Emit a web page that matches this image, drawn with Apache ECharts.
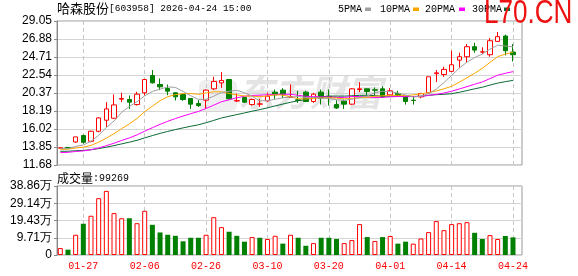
<!DOCTYPE html>
<html><head><meta charset="utf-8">
<script src="https://cdn.jsdelivr.net/npm/echarts@6/dist/echarts.min.js"></script>
<style>html,body{margin:0;padding:0;background:#fff}#c{width:578px;height:276px}</style>
</head><body><div id="c"></div>
<script>
const dates = ['01-22','01-23','01-26','01-27','01-28','01-29','01-30','02-02','02-03','02-04',
'02-05','02-06','02-09','02-10','02-11','02-12','02-13','02-24','02-25','02-26',
'02-27','03-02','03-03','03-04','03-05','03-06','03-09','03-10','03-11','03-12',
'03-13','03-16','03-17','03-18','03-19','03-20','03-23','03-24','03-25','03-26',
'03-27','03-30','03-31','04-01','04-02','04-03','04-07','04-08','04-09','04-10',
'04-13','04-14','04-15','04-16','04-17','04-20','04-21','04-22','04-23','04-24'];
const opens = [13.72,13.80,14.46,15.23,14.54,15.75,17.08,17.32,19.62,19.58,
18.97,20.39,22.48,21.39,20.91,20.39,20.18,19.70,19.10,19.50,
20.87,21.59,21.99,19.40,19.82,18.97,19.02,19.42,20.47,20.71,
19.82,19.54,20.47,19.34,20.47,19.98,18.97,19.38,19.02,20.79,
20.87,20.75,20.87,20.14,20.30,19.90,19.50,19.90,20.39,22.70,
22.60,22.97,24.33,24.74,25.95,25.30,24.98,26.59,27.24,25.30];
const closes = [13.75,13.72,15.07,14.42,15.75,17.36,18.45,18.93,19.70,19.26,
20.22,21.99,21.59,21.11,20.59,19.90,19.58,19.02,18.85,20.71,
21.76,21.88,19.66,19.45,19.26,19.58,19.05,19.98,20.14,20.22,
19.94,19.46,19.34,20.22,19.74,19.86,18.57,19.02,20.87,20.87,
20.55,20.70,19.90,20.63,20.06,19.34,19.46,20.30,22.32,22.80,
23.21,23.77,24.74,25.95,25.54,25.33,26.67,27.16,25.46,24.98];
const lows = [13.68,13.70,14.34,14.26,14.42,15.63,16.27,17.24,19.26,18.45,
18.85,20.06,21.51,20.71,20.10,19.46,19.42,18.45,18.69,18.45,
20.71,20.99,19.58,19.30,19.18,18.85,18.69,19.34,19.66,19.74,
19.78,19.18,19.26,19.18,18.97,18.85,18.45,18.45,18.93,20.47,
20.06,20.06,19.74,19.90,19.98,18.97,18.97,19.74,20.30,21.68,
22.32,22.88,23.41,24.01,25.22,25.06,24.74,26.51,24.90,24.17];
const highs = [13.78,13.85,15.07,15.35,15.83,17.44,19.26,20.18,20.39,20.06,
20.51,22.07,23.13,22.12,21.39,20.47,20.30,19.74,19.50,20.79,
22.32,22.88,21.99,20.30,19.90,19.70,19.66,20.39,20.79,20.95,
21.39,20.63,20.63,20.39,20.79,20.79,19.50,19.58,20.95,21.68,
20.87,21.03,21.19,20.95,20.63,19.98,19.90,20.39,22.32,23.13,
23.53,25.46,25.22,26.27,26.43,25.87,26.99,27.72,27.40,26.27];
const volumes = [3.9,3.0,11.4,17.6,22.1,32.0,36.1,23.6,20.7,20.7,
17.9,24.9,17.0,12.7,11.4,10.8,7.7,9.7,9.7,11.4,
21.3,15.7,13.1,10.8,7.5,10.1,9.7,9.0,10.8,6.4,
11.4,9.7,5.2,6.7,9.7,9.7,9.0,6.7,8.4,17.4,
10.1,7.9,10.1,10.7,6.4,7.5,6.4,9.3,12.9,19.1,
14.0,17.4,17.9,18.5,12.5,9.0,11.2,9.0,10.7,9.93];
const volUp = [1,0,1,0,1,1,1,1,1,0, 1,1,0,0,0,0,0,0,0,1, 1,1,0,0,0,1,0,1,1,0,
1,0,0,1,0,0,0,1,1,1, 0,1,0,1,0,0,1,1,1,1, 1,1,1,1,0,0,1,1,0,0];
const ma5 = [13.66,13.66,13.92,14.10,14.54,15.26,16.21,16.98,18.04,18.74,19.31,20.02,20.55,20.83,21.10,21.04,20.55,20.04,19.59,19.61,19.98,20.44,20.57,20.69,20.40,19.97,19.40,19.46,19.60,19.79,19.87,19.95,19.82,19.84,19.74,19.72,19.55,19.48,19.61,19.84,19.98,20.40,20.58,20.53,20.37,20.13,19.88,19.96,20.30,20.84,21.62,22.48,23.37,24.09,24.64,25.07,25.65,26.13,26.03,25.92];
const ma10 = [13.56,13.59,13.74,13.83,14.05,14.43,14.92,15.46,16.07,16.64,17.29,18.12,18.77,19.44,19.92,20.17,20.29,20.30,20.21,20.36,20.51,20.50,20.31,20.14,20.01,19.98,19.92,20.02,20.15,20.10,19.92,19.67,19.64,19.72,19.77,19.80,19.75,19.65,19.72,19.79,19.85,19.97,20.03,20.07,20.10,20.05,20.14,20.27,20.41,20.61,20.87,21.18,21.66,22.20,22.74,23.34,24.06,24.75,25.06,25.28];
const ma20 = [13.17,13.21,13.31,13.38,13.52,13.74,14.01,14.31,14.64,14.95,15.31,15.76,16.18,16.58,16.95,17.28,17.59,17.87,18.14,18.50,18.90,19.31,19.54,19.79,19.96,20.07,20.10,20.16,20.18,20.23,20.21,20.09,19.97,19.93,19.89,19.89,19.83,19.83,19.94,19.94,19.88,19.82,19.84,19.90,19.94,19.92,19.94,19.96,20.07,20.20,20.36,20.58,20.85,21.13,21.42,21.70,22.10,22.51,22.74,22.94];
const ma30 = [13.33,13.34,13.40,13.44,13.52,13.66,13.83,14.02,14.23,14.43,14.66,14.95,15.23,15.49,15.73,15.95,16.16,16.35,16.53,16.78,17.06,17.35,17.56,17.76,17.96,18.17,18.36,18.58,18.81,19.03,19.24,19.43,19.57,19.77,19.90,19.98,19.99,19.99,20.03,20.08,20.09,20.05,19.99,19.98,19.96,19.94,19.94,19.98,20.09,20.16,20.21,20.28,20.45,20.66,20.87,21.06,21.32,21.56,21.73,21.89];
const priceTicks = ['11.68','13.85','16.02','18.19','20.37','22.54','24.71','26.88','29.05'];
const volTicks = ['0','9.71万','19.43万','29.14万','38.86万'];
const labelIdx = [3,11,19,27,35,43,51,59];
const priceMin = 11.68, priceMax = 29.05, volMax = 38.86;

const SANS = 'Liberation Sans', MONO = 'Liberation Mono', CJK = 'Noto Sans CJK SC';
const RED = '#ff0000', GREEN = '#008000';
const BORDER = '#999999', SPLIT = '#d4d4d4';
const showIdx = (i) => labelIdx.indexOf(i) >= 0;

const chart = echarts.init(document.getElementById('c'), null, {renderer: 'canvas', width: 578, height: 276});

const frameY = (grid, ticks) => ({
  gridIndex: grid, type: 'value', min: 0, max: ticks.length - 1, interval: 1,
  axisLine: {show: true, lineStyle: {color: '#888'}},
  axisTick: {show: true, length: 3, lineStyle: {color: '#888'}},
  axisLabel: {formatter: (v) => ticks[Math.round(v)], color: '#000', fontSize: 12, fontFamily: SANS, margin: 5},
  splitLine: {show: true, lineStyle: {color: SPLIT, width: 1}}
});
const dataX = (grid, labels) => ({
  gridIndex: grid, type: 'category', data: dates, boundaryGap: false,
  axisLine: {show: false}, axisTick: {show: false},
  axisLabel: {show: labels, interval: showIdx, color: RED, fontFamily: MONO, fontSize: 10, margin: 6},
  splitLine: {show: true, interval: showIdx, lineStyle: {type: [4, 3], color: '#c8c8c8'}}
});

const option = {
  animation: false,
  backgroundColor: '#fff',
  grid: [
    {left: 57, top: 21, width: 465, height: 144, show: true, borderColor: BORDER, borderWidth: 1, backgroundColor: 'transparent'},
    {left: 60.3, top: 21, width: 452.7, height: 144},
    {left: 57, top: 186, width: 465, height: 69, show: true, borderColor: BORDER, borderWidth: 1, backgroundColor: 'transparent'},
    {left: 60.3, top: 186, width: 452.7, height: 69}
  ],
  xAxis: [
    {gridIndex: 0, type: 'value', min: 0, max: 1, show: false},
    dataX(1, false),
    {gridIndex: 2, type: 'value', min: 0, max: 1, show: false},
    dataX(3, true)
  ],
  yAxis: [
    frameY(0, priceTicks),
    {gridIndex: 1, type: 'value', min: priceMin, max: priceMax, show: false},
    frameY(2, volTicks),
    {gridIndex: 3, type: 'value', min: 0, max: volMax, show: false}
  ],
  series: [
    {
      type: 'candlestick', xAxisIndex: 1, yAxisIndex: 1, barWidth: 5, clip: false, z: 3,
      data: dates.map((d, i) => [opens[i], closes[i], lows[i], highs[i]]),
      itemStyle: {color: '#ffffff', color0: GREEN, borderColor: RED, borderColor0: GREEN, borderWidth: 1}
    },
    {type: 'line', xAxisIndex: 1, yAxisIndex: 1, data: ma30, showSymbol: false, clip: false, z: 4, lineStyle: {color: '#0b6b34', width: 1}},
    {type: 'line', xAxisIndex: 1, yAxisIndex: 1, data: ma20, showSymbol: false, clip: false, z: 4, lineStyle: {color: '#ff00ff', width: 1}},
    {type: 'line', xAxisIndex: 1, yAxisIndex: 1, data: ma10, showSymbol: false, clip: false, z: 4, lineStyle: {color: '#ffa500', width: 1}},
    {type: 'line', xAxisIndex: 1, yAxisIndex: 1, data: ma5, showSymbol: false, clip: false, z: 4, lineStyle: {color: '#a0a0a0', width: 1}},
    {
      type: 'bar', xAxisIndex: 3, yAxisIndex: 3, barWidth: 5, clip: false, z: 3,
      data: volumes.map((v, i) => ({
        value: v,
        itemStyle: volUp[i] ? {color: '#ffffff', borderColor: RED, borderWidth: 1}
                            : {color: GREEN, borderColor: GREEN, borderWidth: 0}
      }))
    }
  ],
  graphic: [
    {type: 'rect', z: 0, shape: {x: 199, y: 80, width: 38, height: 31, r: 6}, style: {fill: 'rgba(190,190,190,0.25)'}, silent: true},
    {type: 'text', z: 0, x: 238, y: 92, silent: true,
     style: {text: '东方财富', fontSize: 36, fontWeight: 'bold', fontStyle: 'italic', fontFamily: CJK, fill: 'rgba(170,170,170,0.32)', verticalAlign: 'middle'}},
    {type: 'text', z: 50, x: 57, y: 8,
     style: {text: '{a|哈森股份}{b|[603958] 2026-04-24 15:00}', verticalAlign: 'middle',
       rich: {a: {fontFamily: CJK, fontSize: 13, fill: '#000'}, b: {fontFamily: MONO, fontSize: 9.5, fill: '#000'}}}},
    {type: 'text', z: 50, x: 338, y: 9, style: {text: '5PMA', fontFamily: MONO, fontSize: 10, fill: '#000', verticalAlign: 'middle'}},
    {type: 'rect', z: 50, shape: {x: 365, y: 7.5, width: 6, height: 3.5}, style: {fill: '#a0a0a0'}},
    {type: 'text', z: 50, x: 380, y: 9, style: {text: '10PMA', fontFamily: MONO, fontSize: 10, fill: '#000', verticalAlign: 'middle'}},
    {type: 'rect', z: 50, shape: {x: 413, y: 7.5, width: 6, height: 3.5}, style: {fill: '#ffa500'}},
    {type: 'text', z: 50, x: 425, y: 9, style: {text: '20PMA', fontFamily: MONO, fontSize: 10, fill: '#000', verticalAlign: 'middle'}},
    {type: 'rect', z: 50, shape: {x: 459, y: 7.5, width: 6, height: 3.5}, style: {fill: '#ff00ff'}},
    {type: 'text', z: 50, x: 472, y: 9, style: {text: '30PMA', fontFamily: MONO, fontSize: 10, fill: '#000', verticalAlign: 'middle'}},
    {type: 'rect', z: 50, shape: {x: 504, y: 7.5, width: 6, height: 3.5}, style: {fill: '#0b6b34'}},
    {type: 'text', z: 60, x: 484, y: 14, scaleX: 0.79, style: {text: 'L70.CN', fontFamily: SANS, fontSize: 33, fill: '#ee1111', verticalAlign: 'middle'}},
    {type: 'text', z: 50, x: 57, y: 178,
     style: {text: '{a|成交量}{b|:99269}', verticalAlign: 'middle',
       rich: {a: {fontFamily: CJK, fontSize: 12, fill: '#000'}, b: {fontFamily: MONO, fontSize: 10, fill: '#000'}}}}
  ]
};
chart.setOption(option);
</script></body></html>
